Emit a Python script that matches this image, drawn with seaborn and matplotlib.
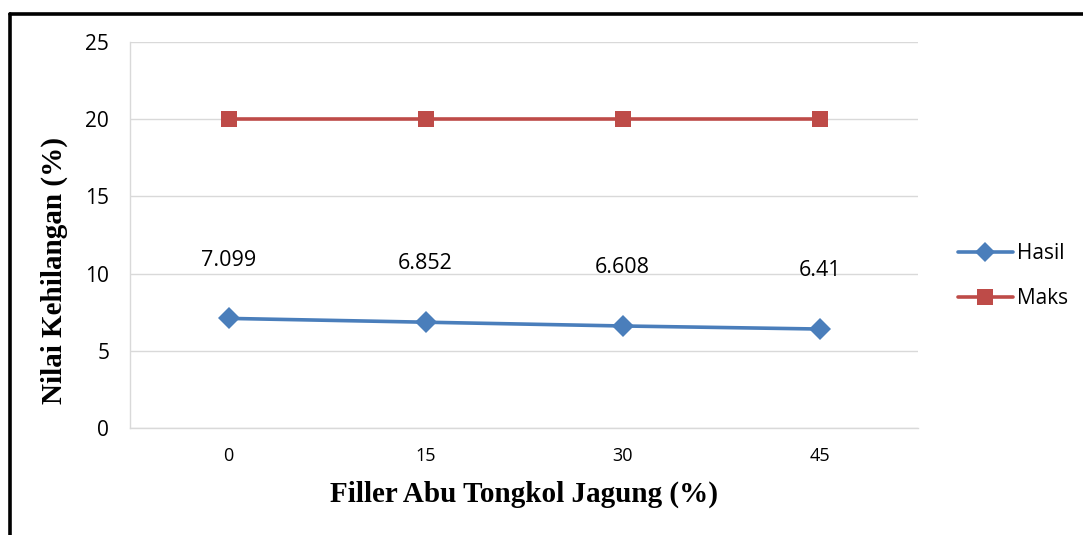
import matplotlib
matplotlib.use("Agg")
import matplotlib.pyplot as plt
import seaborn as sns
import pandas as pd
from matplotlib.lines import Line2D

categories = ["0", "15", "30", "45"]
hasil = [7.099, 6.852, 6.608, 6.41]
maks = [20, 20, 20, 20]
hasil_labels = ["7.099", "6.852", "6.608", "6.41"]
series_names = ["Hasil", "Maks"]
y_ticks = [0, 5, 10, 15, 20, 25]

df = pd.DataFrame({
    "Filler": categories * 2,
    "Nilai": hasil + maks,
    "Seri": [series_names[0]] * 4 + [series_names[1]] * 4,
})

sns.set_theme(style="white")
plt.rcParams["font.family"] = ["Open Sans", "DejaVu Sans"]
plt.rcParams["text.color"] = "black"
plt.rcParams["axes.labelcolor"] = "black"

fig = plt.figure(figsize=(10.83, 5.35), dpi=100)
ax = fig.add_axes([130 / 1083, 1 - 428 / 535, (918 - 130) / 1083, (428 - 42) / 535])

palette = {"Hasil": "#4A7EBB", "Maks": "#BE4B48"}
sns.lineplot(data=df, x="Filler", y="Nilai", hue="Seri", style="Seri",
             markers={"Hasil": "D", "Maks": "s"}, dashes=False,
             palette=palette, linewidth=2.6, markersize=11,
             markeredgewidth=0, ax=ax, legend=False, sort=False)

ax.set_xlim(-0.5, 3.5)
ax.set_ylim(0, 25)
ax.set_yticks(y_ticks)
ax.set_yticklabels([str(t) for t in y_ticks], fontsize=15)
ax.set_xticks(range(len(categories)))
ax.set_xticklabels(categories, fontsize=13)
ax.set_xticks([-0.5, 0.5, 1.5, 2.5, 3.5], minor=True)
ax.tick_params(axis="x", which="major", length=0, pad=14, labelcolor="black")
ax.tick_params(axis="x", which="minor", length=6, color="#D9D9D9", width=1)
ax.tick_params(axis="y", which="major", length=7, color="#D9D9D9", width=1, pad=8,
               labelcolor="black")
ax.grid(axis="y", color="#D9D9D9", linewidth=1)
ax.grid(axis="x", visible=False)
for side in ["top", "right"]:
    ax.spines[side].set_visible(False)
for side in ["left", "bottom"]:
    ax.spines[side].set_color("#D9D9D9")
    ax.spines[side].set_linewidth(1)

for i, (v, lab) in enumerate(zip(hasil, hasil_labels)):
    ax.annotate(lab, (i, v), xytext=(0, 42), textcoords="offset points",
                ha="center", va="center", fontsize=15.5, color="black")

ax.set_xlabel("Filler Abu Tongkol Jagung (%)", fontsize=21, fontweight="bold",
              family="Liberation Serif", labelpad=11, color="black")
ax.set_ylabel("Nilai Kehilangan (%)", fontsize=21, fontweight="bold",
              family="Liberation Serif", color="black")
ax.yaxis.set_label_coords((68 - 130) / 788, (428 - 270) / 386)

handles = [
    Line2D([], [], color=palette["Hasil"], marker="D", markersize=10, linewidth=2.6, markeredgewidth=0),
    Line2D([], [], color=palette["Maks"], marker="s", markersize=11, linewidth=2.6, markeredgewidth=0),
]
leg = fig.legend(handles, series_names, loc="center left",
                 bbox_to_anchor=(950 / 1083, 1 - 276 / 535), frameon=False,
                 borderaxespad=0, fontsize=15, handlelength=2.6,
                 handletextpad=0.2, labelspacing=1.15)
for t in leg.get_texts():
    t.set_color("black")

# outer border (left and top)
fig.add_artist(Line2D([9.5 / 1083, 9.5 / 1083], [0, 1 - 13.5 / 535], color="black",
                      linewidth=2.6, transform=fig.transFigure))
fig.add_artist(Line2D([9.5 / 1083, 1], [1 - 13.5 / 535, 1 - 13.5 / 535], color="black",
                      linewidth=2.6, transform=fig.transFigure))

fig.savefig("out.png", dpi=100)
